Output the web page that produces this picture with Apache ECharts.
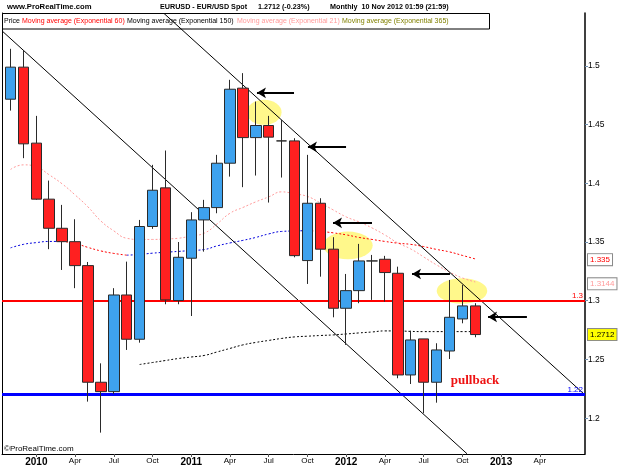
<!DOCTYPE html>
<html>
<head>
<meta charset="utf-8">
<script src="https://cdn.jsdelivr.net/npm/echarts@6/dist/echarts.min.js"></script>
<style>
html, body { margin: 0; padding: 0; background: #fff; }
#main { width: 625px; height: 469px; }
</style>
</head>
<body>
<div id="main"></div>
<script>
// EURUSD monthly, index 0 = Nov 2009 ... 36 = Nov 2012
var opens  = [1.4716, 1.4989, 1.4342, 1.3865, 1.3617, 1.3503, 1.3299, 1.2306, 1.2226, 1.3049, 1.2672, 1.3632, 1.3961,
              1.3002, 1.3362, 1.3688, 1.3793, 1.4171, 1.4810, 1.4389, 1.4492, 1.4361, 1.4361, 1.3342, 1.3830, 1.3439,
              1.2936, 1.3086, 1.3339, 1.3353, 1.3234, 1.2368, 1.2675, 1.2306, 1.2572, 1.2845, 1.2956];
var closes = [1.4989, 1.4336, 1.3865, 1.3617, 1.3503, 1.3299, 1.2306, 1.2226, 1.3049, 1.2672, 1.3632, 1.3941, 1.3007,
              1.3370, 1.3688, 1.3793, 1.4171, 1.4801, 1.4389, 1.4492, 1.4393, 1.4361, 1.3384, 1.3830, 1.3439, 1.2936,
              1.3086, 1.3339, 1.3339, 1.3240, 1.2368, 1.2666, 1.2306, 1.2581, 1.2859, 1.2956, 1.2712];
var lows   = [1.4619, 1.4214, 1.3860, 1.3439, 1.3262, 1.3107, 1.2141, 1.1877, 1.2206, 1.2581, 1.2643, 1.3612, 1.2970,
              1.2970, 1.2870, 1.3418, 1.3745, 1.4057, 1.3967, 1.4066, 1.3836, 1.4049, 1.3370, 1.3143, 1.3205, 1.2859,
              1.2624, 1.2979, 1.3007, 1.2992, 1.2340, 1.2291, 1.2042, 1.2132, 1.2504, 1.2808, 1.2689];
var highs  = [1.5145, 1.5130, 1.4574, 1.4023, 1.3816, 1.3694, 1.3330, 1.2467, 1.3107, 1.3333, 1.3688, 1.4157, 1.4279,
              1.3500, 1.3754, 1.3859, 1.4242, 1.4881, 1.4938, 1.4696, 1.4574, 1.4540, 1.4384, 1.4242, 1.3873, 1.3541,
              1.3228, 1.3484, 1.3390, 1.3382, 1.3290, 1.2745, 1.2675, 1.2638, 1.3177, 1.3135, 1.2979];

// moving averages
var ema21  = [1.4118, 1.4157, 1.4140, 1.4072, 1.3995, 1.3901, 1.3799, 1.3679, 1.3595, 1.3532, 1.3522, 1.3522, 1.3526,
              1.3532, 1.3552, 1.3575, 1.3654, 1.3745, 1.3794, 1.3842, 1.3884, 1.3927, 1.3910, 1.3888, 1.3833, 1.3773,
              1.3714, 1.3671, 1.3620, 1.3560, 1.3492, 1.3441, 1.3373, 1.3305, 1.3245, 1.3194, 1.3160];
var ema60  = [1.3450, 1.3480, 1.3495, 1.3505, 1.3505, 1.3488, 1.3454, 1.3424, 1.3403, 1.3388, 1.3394, 1.3405, 1.3413,
              1.3420, 1.3428, 1.3436, 1.3467, 1.3492, 1.3514, 1.3539, 1.3569, 1.3590, 1.3594, 1.3597, 1.3590, 1.3578,
              1.3561, 1.3539, 1.3522, 1.3505, 1.3490, 1.3480, 1.3461, 1.3437, 1.3416, 1.3386, 1.3356];
var ema150 = [null, null, null, null, null, null, null, null, null, null, 1.2457, 1.2474, 1.2491,
              1.2508, 1.2521, 1.2534, 1.2564, 1.2594, 1.2624, 1.2645, 1.2662, 1.2679, 1.2692, 1.2698, 1.2704, 1.2709,
              1.2717, 1.2726, 1.2734, 1.2743, 1.2743, 1.2739, 1.2737, 1.2737, 1.2737, 1.2737, 1.2737];

var tickIdx    = [2, 5, 8, 11, 14, 17, 20, 23, 26, 29, 32, 35, 38, 41];
var tickLabels = ['2010', 'Apr', 'Jul', 'Oct', '2011', 'Apr', 'Jul', 'Oct', '2012', 'Apr', 'Jul', 'Oct', '2013', 'Apr'];
var priceTicks = [1.2, 1.25, 1.3, 1.35, 1.4, 1.45, 1.5];

// drawn annotations (in month index / price units)
var channelLines = [[[-0.66, 1.5298], [35.36, 1.1697]], [[11.89, 1.5446], [44.5, 1.2198]]];
var arrows = [[21.96, 19.09, 1.4770], [25.99, 23.04, 1.4310], [28.0, 24.98, 1.3663], [34.04, 31.1, 1.3228], [40.0, 36.99, 1.2862]];
var highlights = [[19.64, 1.4604, 17.5, 12.5], [26.14, 1.3471, 24.7, 13.8], [34.97, 1.3083, 25.3, 12.8]];
var levels = [[1.3, '1.3', '#ff0000', 2], [1.22, '1.22', '#0000ff', 3]];
var lastValues = [[1.335, '1.335', '#ff0000', '#ffffff'], [1.3144, '1.3144', '#ff9a9a', '#ffffff'], [1.2712, '1.2712', '#000000', '#ffff00']];

var FONT = 'Liberation Sans, Arial, sans-serif';
var chart = echarts.init(document.getElementById('main'));

function emaPart(rising) {
    return ema60.map(function (v, i) {
        var prev = i > 0 && ((v >= ema60[i - 1]) === rising);
        var next = i < ema60.length - 1 && ((ema60[i + 1] >= v) === rising);
        return [i, (prev || next) ? v : '-'];
    });
}

var markData = [];
channelLines.forEach(function (l) {
    markData.push([{ coord: l[0], symbol: 'none' }, { coord: l[1], symbol: 'none' }]);
});
levels.forEach(function (l) {
    markData.push({
        yAxis: l[0], symbol: 'none',
        lineStyle: { color: l[2], width: l[3], type: 'solid' },
        label: { show: true, position: 'insideEndTop', formatter: l[1], color: l[2], fontSize: 8, fontFamily: FONT, distance: [2, 1] }
    });
});
arrows.forEach(function (a) {
    markData.push([
        { coord: [a[0], a[2]], symbol: 'none' },
        { coord: [a[1], a[2]], symbol: 'arrow', symbolSize: [8, 9], lineStyle: { width: 2 } }
    ]);
});

var option = {
    animation: false,
    grid: { left: 2, right: 40, top: 13, bottom: 15, outerBoundsMode: 'none' },
    xAxis: {
        type: 'value', min: -0.66, max: 44.5,
        axisLine: { onZero: false, lineStyle: { color: '#000', width: 1 } },
        axisTick: { customValues: tickIdx, length: 3, lineStyle: { color: '#555' } },
        splitLine: { show: false },
        axisLabel: {
            customValues: tickIdx, margin: 3, color: '#000', fontFamily: FONT,
            formatter: function (v) {
                var t = tickLabels[tickIdx.indexOf(Math.round(v))] || '';
                return /^\d{4}$/.test(t) ? '{y|' + t + '}' : '{m|' + t + '}';
            },
            rich: { y: { fontSize: 10, fontWeight: 'bold', fontFamily: FONT, color: '#000' },
                    m: { fontSize: 8, fontFamily: FONT, color: '#000' } }
        }
    },
    yAxis: [{
        type: 'value', position: 'right', min: 1.1695, max: 1.545, scale: true,
        axisLine: { show: true, onZero: false, lineStyle: { color: '#000', width: 1.5 } },
        axisTick: { show: true, customValues: priceTicks, length: 3, lineStyle: { color: '#7090b0' } },
        splitLine: { show: false },
        axisLabel: {
            customValues: priceTicks, margin: 3, fontSize: 8.5, color: '#000', fontFamily: FONT,
            formatter: function (v) { return String(Number(v.toFixed(2))); }
        }
    }, {
        type: 'value', position: 'left', min: 1.1695, max: 1.545,
        axisLine: { show: true, onZero: false, lineStyle: { color: '#000', width: 1 } },
        axisTick: { show: false }, axisLabel: { show: false }, splitLine: { show: false }
    }],
    series: [{
        type: 'line', name: 'EMA21', z: 2, smooth: true, showSymbol: false, silent: true,
        data: ema21.map(function (v, i) { return [i, v]; }),
        lineStyle: { color: '#ff9a9a', width: 1, type: [2, 2] }
    }, {
        type: 'line', name: 'EMA60 up', z: 2, smooth: true, showSymbol: false, silent: true,
        data: emaPart(true),
        lineStyle: { color: '#0000dd', width: 1, type: [2, 2] }
    }, {
        type: 'line', name: 'EMA60 down', z: 2, smooth: true, showSymbol: false, silent: true,
        data: emaPart(false),
        lineStyle: { color: '#ff0000', width: 1, type: [2, 2] }
    }, {
        type: 'line', name: 'EMA150', z: 2, smooth: true, showSymbol: false, silent: true,
        data: ema150.map(function (v, i) { return [i, v == null ? '-' : v]; }),
        lineStyle: { color: '#000', width: 1, type: [2, 2] }
    }, {
        type: 'candlestick', name: 'EURUSD', z: 5, barWidth: 11,
        encode: { x: 0, y: [1, 2, 3, 4] },
        data: opens.map(function (o, i) { return [i, o, closes[i], lows[i], highs[i]]; }),
        itemStyle: { color: '#3ea2ee', color0: '#ff2020', borderColor: '#2a2a2a', borderColor0: '#2a2a2a', borderWidth: 1 },
        markLine: {
            silent: true, animation: false, symbol: 'none',
            label: { show: false },
            lineStyle: { color: '#000', width: 1, type: 'solid' },
            data: markData
        }
    }]
};
chart.setOption(option);

// annotations positioned from data coordinates
function toPx(i, p) { return chart.convertToPixel({ xAxisIndex: 0, yAxisIndex: 0 }, [i, p]); }
var g = [];
highlights.forEach(function (h) {
    var c = toPx(h[0], h[1]);
    g.push({ type: 'circle', x: c[0], y: c[1], scaleX: h[2] / h[3], z: 0, silent: true,
             shape: { cx: 0, cy: 0, r: h[3] }, style: { fill: 'rgba(255,246,110,0.8)' } });
});
lastValues.forEach(function (lv) {
    var y = chart.convertToPixel({ yAxisIndex: 0 }, lv[0]);
    g.push({ type: 'text', x: 588, y: y, z: 100, style: {
        text: lv[1], fill: lv[2], font: '8px ' + FONT, verticalAlign: 'middle',
        backgroundColor: lv[3], borderColor: '#8a8a8a', borderWidth: 1, padding: [2, 2, 1, 2] } });
});
var pb = toPx(35.98, 1.2317);
g.push({ type: 'text', x: pb[0], y: pb[1], z: 100, style: {
    text: 'pullback', fill: '#ee1111', font: 'bold 13px Liberation Serif, Times New Roman, serif',
    align: 'center', verticalAlign: 'middle' } });
// header and legend (legend box sits under the drawn trend line, as in the original)
g.push({ type: 'text', x: 7, y: 7, z: 100, style: { text: 'www.ProRealTime.com', fill: '#000', font: 'bold 7.7px ' + FONT, verticalAlign: 'middle' } });
g.push({ type: 'text', x: 160, y: 7, z: 100, style: { text: 'EURUSD - EUR/USD Spot', fill: '#000', font: 'bold 7.2px ' + FONT, verticalAlign: 'middle' } });
g.push({ type: 'text', x: 258, y: 7, z: 100, style: { text: '1.2712 (-0.23%)', fill: '#000', font: 'bold 7.2px ' + FONT, verticalAlign: 'middle' } });
g.push({ type: 'text', x: 330, y: 7, z: 100, style: { text: 'Monthly  10 Nov 2012 01:59 (21:59)', fill: '#000', font: 'bold 7.2px ' + FONT, verticalAlign: 'middle' } });
g.push({ type: 'rect', z: 1, shape: { x: 2.5, y: 13.5, width: 487, height: 15.5 }, style: { fill: '#fff', stroke: '#000', lineWidth: 1 } });
var legendParts = [[4, 'Price', '#000'], [22, 'Moving average (Exponential 60)', '#ff0000'], [127, 'Moving average (Exponential 150)', '#000'],
                   [237, 'Moving average (Exponential 21)', '#ff9a9a'], [342, 'Moving average (Exponential 365)', '#808000']];
legendParts.forEach(function (p) {
    g.push({ type: 'text', x: p[0], y: 21, z: 1, style: { text: p[1], fill: p[2], font: '7px ' + FONT, verticalAlign: 'middle' } });
});
g.push({ type: 'text', x: 4, y: 449, z: 100, style: { text: '\u00a9ProRealTime.com', fill: '#000', font: '8px ' + FONT, verticalAlign: 'middle' } });
chart.setOption({ graphic: g });
</script>
</body>
</html>
